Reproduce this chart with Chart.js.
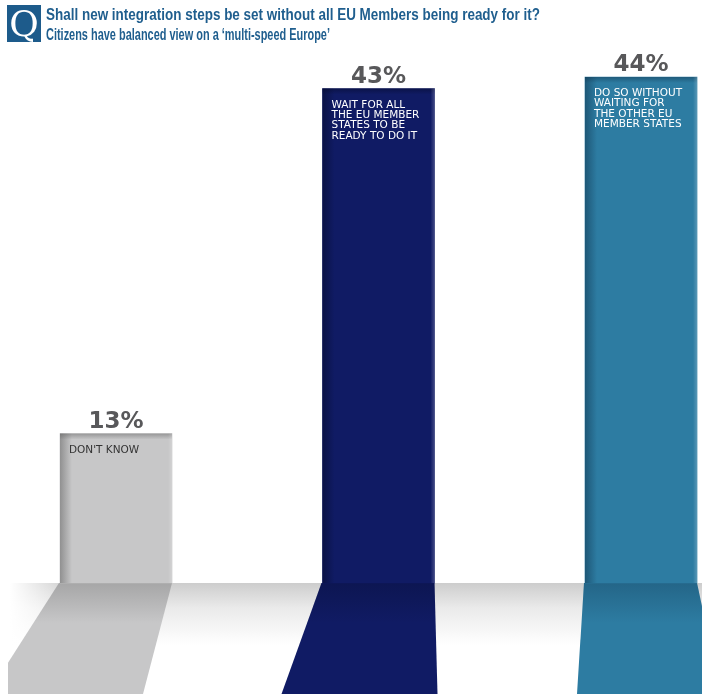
<!DOCTYPE html>
<html>
<head>
<meta charset="utf-8">
<script src="https://cdn.jsdelivr.net/npm/chart.js@4.4.1/dist/chart.umd.min.js"></script>
<style>
  html, body { margin: 0; padding: 0; background: #fff; }
  #wrap { position: relative; width: 702px; height: 694px; overflow: hidden; }
  #chart { position: absolute; left: 0; top: 0; }
  #qbox {
    position: absolute; left: 7px; top: 5px; width: 34px; height: 37px;
    background: #1d5b8b; color: #fff; font: 36px "DejaVu Serif", "Liberation Serif", serif;
    line-height: 37px; text-align: center;
  }
  .tline {
    position: absolute; left: 46px; white-space: nowrap; transform-origin: 0 0;
    font: bold 17px "Liberation Sans Narrow", "Liberation Sans", sans-serif; color: #1f5e8e;
  }
</style>
</head>
<body>
<div id="wrap">
  <canvas id="chart" width="702" height="694"></canvas>
  <div id="qbox">Q</div>
  <div class="tline" id="t1" style="top:5px">Shall new integration steps be set without all EU Members being ready for it?</div>
  <div class="tline" id="t2" style="top:25px">Citizens have balanced view on a ‘multi-speed Europe’</div>
</div>
<script>
// data
var categories = ["Don't know", "Wait for all", "Do so without waiting"];
var values = [13, 43, 44];
var barLabelLines = [
  ["DON'T KNOW"],
  ["WAIT FOR ALL", "THE EU MEMBER", "STATES TO BE", "READY TO DO IT"],
  ["DO SO WITHOUT", "WAITING FOR", "THE OTHER EU", "MEMBER STATES"]
];

// styles
var barColors = ["#c7c7c8", "#101b64", "#2d7ca2"];
var shadeColors = ["rgba(90,90,90,", "rgba(5,10,40,", "rgba(15,50,75,"];
var textColors = ["#333333", "#ffffff", "#ffffff"];
var floorShift = [[-72, -29], [-41, 3], [-8, 24]];

// fit the title lines to the width of the original
function fitLine(id, target) {
  var el = document.getElementById(id);
  var w = el.getBoundingClientRect().width;
  el.style.transform = "scaleX(" + (target / w) + ")";
}
fitLine("t1", 494);
fitLine("t2", 284);

var floorPlugin = {
  id: "floor",
  beforeDatasetsDraw: function(chart) {
    var ctx = chart.ctx;
    var base = chart.chartArea.bottom;
    var H = chart.height;
    ctx.save();
    // floor band
    var g = ctx.createLinearGradient(0, base, 0, base + 62);
    g.addColorStop(0, "#cdcdcd");
    g.addColorStop(0.4, "#eaeaea");
    g.addColorStop(1, "#ffffff");
    ctx.fillStyle = g;
    ctx.fillRect(0, base, chart.width, 62);
    var gl = ctx.createLinearGradient(10, 0, 70, 0);
    gl.addColorStop(0, "rgba(255,255,255,1)");
    gl.addColorStop(1, "rgba(255,255,255,0)");
    ctx.fillStyle = gl;
    ctx.fillRect(0, base, 70, 62);
    // reflections of bars on the floor
    var bars = chart.getDatasetMeta(0).data;
    bars.forEach(function(bar, i) {
      var l = bar.x - bar.width / 2, r = bar.x + bar.width / 2;
      var dy = H - base;
      var lb = l + floorShift[i][0], rb = r + floorShift[i][1];
      ctx.beginPath();
      ctx.moveTo(l - 1, base);
      ctx.lineTo(r, base);
      ctx.lineTo(rb, H);
      if (lb < 8) {
        var yk = base + (l - 1 - 8) / (l - 1 - lb) * dy;
        ctx.lineTo(8, H);
        ctx.lineTo(8, yk);
      } else {
        ctx.lineTo(lb, H);
      }
      ctx.closePath();
      ctx.fillStyle = barColors[i];
      ctx.fill();
      var sg = ctx.createLinearGradient(0, base, 0, base + 40);
      sg.addColorStop(0, shadeColors[i] + "0.3)");
      sg.addColorStop(1, shadeColors[i] + "0)");
      ctx.fillStyle = sg;
      ctx.fill();
    });
    ctx.restore();
  },
  afterDatasetsDraw: function(chart) {
    var ctx = chart.ctx;
    var bars = chart.getDatasetMeta(0).data;
    ctx.save();
    bars.forEach(function(bar, i) {
      var l = bar.x - bar.width / 2, w = bar.width, t = bar.y, h = bar.base - bar.y;
      // inner shading: left and top edges
      var lg = ctx.createLinearGradient(l, 0, l + 12, 0);
      lg.addColorStop(0, shadeColors[i] + "0.5)");
      lg.addColorStop(1, shadeColors[i] + "0)");
      ctx.fillStyle = lg;
      ctx.fillRect(l, t, 12, h);
      var tg = ctx.createLinearGradient(0, t, 0, t + 6);
      tg.addColorStop(0, shadeColors[i] + "0.45)");
      tg.addColorStop(1, shadeColors[i] + "0)");
      ctx.fillStyle = tg;
      ctx.fillRect(l, t, w, 6);
      var rg = ctx.createLinearGradient(l + w - 4, 0, l + w, 0);
      rg.addColorStop(0, "rgba(255,255,255,0)");
      rg.addColorStop(1, "rgba(255,255,255,0.2)");
      ctx.fillStyle = rg;
      ctx.fillRect(l + w - 4, t, 4, h);
      // value label
      ctx.fillStyle = "#58585a";
      ctx.font = "bold 23px 'DejaVu Sans'";
      ctx.textAlign = "center";
      ctx.textBaseline = "alphabetic";
      ctx.fillText(values[i] + "%", bar.x, t - 6);
      // text inside the bar
      ctx.fillStyle = textColors[i];
      ctx.font = "10.5px 'DejaVu Sans'";
      ctx.textAlign = "left";
      barLabelLines[i].forEach(function(line, k) {
        ctx.fillText(line, l + 9, t + 19 + k * 10.4);
      });
    });
    ctx.restore();
  }
};

new Chart(document.getElementById("chart"), {
  type: "bar",
  data: {
    labels: categories,
    datasets: [{
      data: values,
      backgroundColor: barColors,
      borderWidth: 0,
      barThickness: 112,
      clip: false
    }]
  },
  options: {
    responsive: false,
    animation: false,
    layout: { padding: { left: 116, right: 61, top: 8, bottom: 111 } },
    plugins: { legend: { display: false }, tooltip: { enabled: false } },
    scales: {
      x: { display: false, offset: false },
      y: { display: false, min: 0, max: 50 }
    }
  },
  plugins: [floorPlugin]
});
</script>
</body>
</html>
